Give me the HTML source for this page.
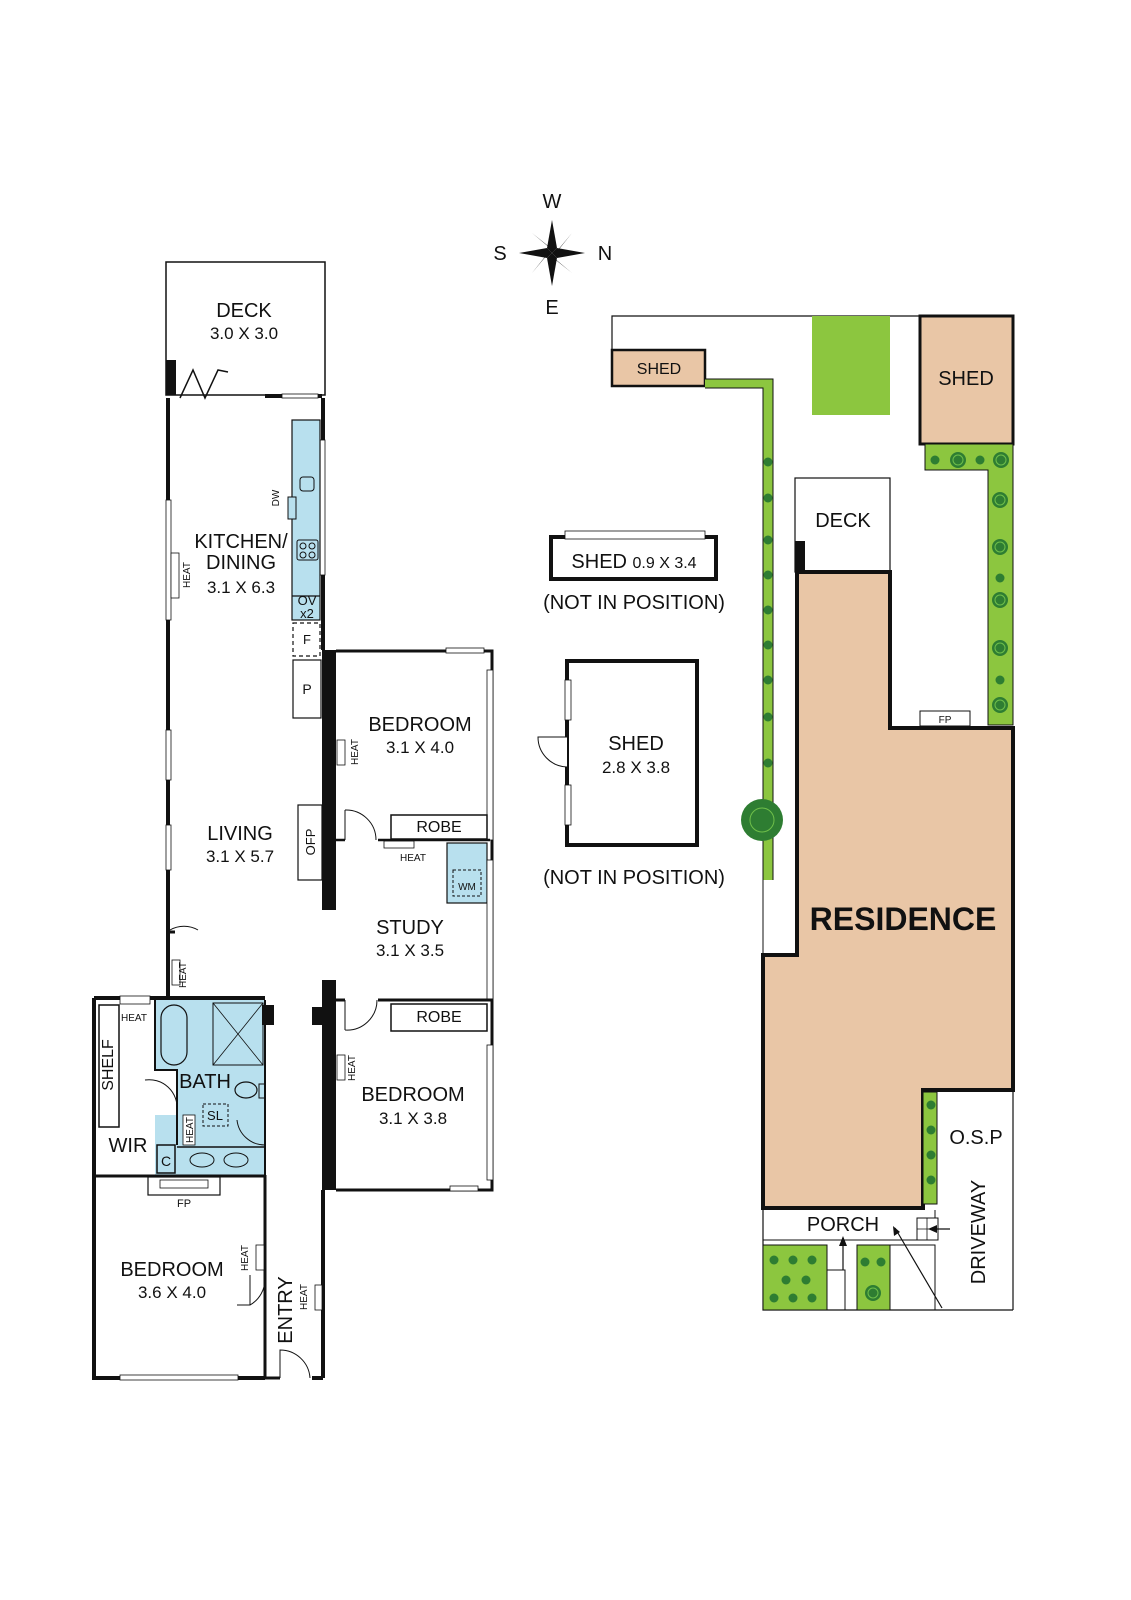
<!DOCTYPE html>
<html><head><style>
html,body{margin:0;padding:0;background:#fff;}
svg{display:block;}
text{font-family:"Liberation Sans",sans-serif;fill:#111;}
</style></head><body>
<svg width="1131" height="1600" viewBox="0 0 1131 1600" xmlns="http://www.w3.org/2000/svg">
<defs>
<g id="tr"><circle r="8" fill="#2e7d32"/><circle r="5" fill="none" stroke="#6fbf4a" stroke-width="1"/></g>
<g id="ts"><circle r="4.5" fill="#2e7d32"/></g>
</defs>
<!-- compass -->
<g transform="translate(552,253)">
<polygon points="0,-33 5,-5 0,0 -5,-5" fill="#111"/>
<polygon points="0,33 5,5 0,0 -5,5" fill="#111"/>
<polygon points="-33,0 -5,5 0,0 -5,-5" fill="#111"/>
<polygon points="33,0 5,5 0,0 5,-5" fill="#111"/>
<polygon points="-20,-20 0,-4 4,0" fill="#111"/><polygon points="20,-20 4,0 0,4" fill="#111"/>
<polygon points="20,20 0,4 -4,0" fill="#111"/><polygon points="-20,20 -4,0 0,-4" fill="#111"/>
</g>
<text x="552" y="208" font-size="20" text-anchor="middle">W</text>
<text x="552" y="314" font-size="20" text-anchor="middle">E</text>
<text x="500" y="260" font-size="20" text-anchor="middle">S</text>
<text x="605" y="260" font-size="20" text-anchor="middle">N</text>

<!-- LEFT PLAN -->
<g fill="none" stroke="#111">
<rect x="166" y="262" width="159" height="133" stroke-width="1.5"/>
<rect x="166" y="360" width="10" height="35" fill="#111" stroke="none"/>
<path d="M180 398 L193 370 L205 398 L218 370 L228 372" stroke-width="1.5"/>
<rect x="265" y="394" width="57" height="4" fill="#111" stroke="none"/>
<rect x="282" y="394" width="36" height="4" fill="#fff" stroke-width="0.8"/>
<path d="M168 398 V500 M168 620 V730 M168 780 V825 M168 870 V935" stroke-width="4"/>
<rect x="166" y="500" width="5" height="120" fill="#fff" stroke-width="0.8"/>
<rect x="166" y="730" width="5" height="50" fill="#fff" stroke-width="0.8"/>
<rect x="166" y="825" width="5" height="45" fill="#fff" stroke-width="0.8"/>
<rect x="171" y="553" width="8" height="45" fill="#fff" stroke-width="0.8"/>
<path d="M323 398 V650" stroke-width="4"/>
<rect x="320" y="440" width="5" height="135" fill="#fff" stroke-width="0.8"/>
<rect x="292" y="420" width="28" height="200" fill="#b8e0ee" stroke-width="1.2"/>
<line x1="292" y1="596" x2="320" y2="596" stroke-width="1.2"/>
<rect x="300" y="477" width="14" height="14" rx="3" stroke-width="1"/>
<rect x="288" y="497" width="8" height="22" fill="#b8e0ee" stroke-width="1"/>
<rect x="297" y="540" width="21" height="20" rx="2" stroke-width="1"/>
<circle cx="303" cy="546" r="3"/><circle cx="312" cy="546" r="3"/><circle cx="303" cy="555" r="3"/><circle cx="312" cy="555" r="3"/>
<rect x="293" y="623" width="27" height="33" stroke-dasharray="4,3" stroke-width="1.2"/>
<rect x="293" y="660" width="28" height="58" stroke-width="1.2"/>
<rect x="298" y="805" width="24" height="75" stroke-width="1.2"/>
<rect x="322" y="650" width="14" height="260" fill="#111" stroke="none"/>
<path d="M336 651 H492 V1000" stroke-width="3"/>
<rect x="446" y="648" width="38" height="5" fill="#fff" stroke-width="0.8"/>
<rect x="487" y="670" width="6" height="170" fill="#fff" stroke-width="0.8"/>
<rect x="337" y="740" width="8" height="25" fill="#fff" stroke-width="0.8"/>
<path d="M336 840 H345 M378 840 H490" stroke-width="2.5"/>
<path d="M345 810 V840 M345 810 A30 30 0 0 1 376 840" stroke-width="1"/>
<rect x="391" y="815" width="96" height="24" stroke-width="1.5"/>
<rect x="384" y="841" width="30" height="7" stroke-width="0.8"/>
<rect x="447" y="843" width="40" height="60" fill="#b8e0ee" stroke-width="1.2"/>
<rect x="453" y="870" width="28" height="26" stroke-dasharray="3,2" stroke-width="1"/>
<rect x="487" y="860" width="6" height="140" fill="#fff" stroke-width="0.8"/>
<path d="M168 935 V1000" stroke-width="4"/>
<path d="M170 930 A28 28 0 0 1 198 930" stroke-width="1"/>
<path d="M166 932 H175" stroke-width="3"/>
<rect x="172" y="960" width="8" height="25" fill="#fff" stroke-width="0.8"/>
<rect x="322" y="980" width="14" height="210" fill="#111" stroke="none"/>
<rect x="312" y="1007" width="12" height="18" fill="#111" stroke="none"/>
<path d="M336 1000 H345 M378 1000 H492 V1190 H336" stroke-width="3"/>
<path d="M345 1000 V1030 M345 1030 A30 30 0 0 0 377 1000" stroke-width="1"/>
<rect x="391" y="1004" width="96" height="27" stroke-width="1.5"/>
<rect x="487" y="1045" width="6" height="135" fill="#fff" stroke-width="0.8"/>
<rect x="450" y="1186" width="28" height="5" fill="#fff" stroke-width="0.8"/>
<rect x="337" y="1055" width="8" height="25" fill="#fff" stroke-width="0.8"/>
<path d="M323 1190 V1378 M323 1378 H312" stroke-width="4"/>
<rect x="315" y="1285" width="7" height="25" fill="#fff" stroke-width="0.8"/>
<path d="M265 1175 V1378 H280" stroke-width="3"/>
<path d="M280 1378 V1350 A30 30 0 0 1 310 1378" stroke-width="1"/>
<rect x="155" y="1000" width="110" height="175" fill="#b8e0ee" stroke="none"/>
<rect x="94" y="1000" width="61" height="175" fill="#fff" stroke="none"/>
<rect x="155" y="1070" width="22" height="45" fill="#fff" stroke="none"/>
<path d="M155 1000 V1070 H177 V1145 M265 1000 V1175" stroke-width="2"/>
<path d="M94 998 H265 M94 998 V1378 H265" stroke-width="4"/>
<rect x="262" y="1005" width="12" height="20" fill="#111" stroke="none"/>
<rect x="120" y="996" width="30" height="8" fill="#fff" stroke-width="0.8"/>
<rect x="161" y="1005" width="26" height="60" rx="13" stroke-width="1.2"/>
<rect x="213" y="1003" width="50" height="62" stroke-width="1"/>
<path d="M213 1003 L263 1065 M263 1003 L213 1065" stroke-width="0.8"/>
<ellipse cx="246" cy="1090" rx="11" ry="8" stroke-width="1.2"/>
<rect x="259" y="1084" width="6" height="14" stroke-width="1"/>
<rect x="203" y="1104" width="25" height="22" stroke-dasharray="3,2" stroke-width="1"/>
<path d="M237 1120 A28 28 0 0 0 265 1145" stroke-width="1"/>
<path d="M145 1080 A28 28 0 0 1 177 1110" stroke-width="1"/>
<rect x="183" y="1115" width="12" height="30" fill="#fff" stroke-width="0.8"/>
<rect x="99" y="1005" width="20" height="122" stroke-width="1.5"/>
<path d="M177 1147 H265" stroke-width="1.5"/>
<ellipse cx="202" cy="1160" rx="12" ry="7" stroke-width="1"/>
<ellipse cx="236" cy="1160" rx="12" ry="7" stroke-width="1"/>
<rect x="157" y="1145" width="18" height="28" stroke-width="1.5"/>
<path d="M94 1176 H265" stroke-width="3"/>
<rect x="148" y="1177" width="72" height="18" stroke-width="1.2"/>
<rect x="160" y="1180" width="48" height="8" stroke-width="0.8"/>
<rect x="256" y="1245" width="8" height="25" fill="#fff" stroke-width="0.8"/>
<path d="M237 1305 H250 V1275 M250 1305 A30 30 0 0 0 265 1278" stroke-width="1"/>
<rect x="120" y="1375" width="118" height="5" fill="#fff" stroke-width="0.8"/>
</g>
<g text-anchor="middle">
<text x="244" y="317" font-size="20">DECK</text>
<text x="244" y="339" font-size="17">3.0 X 3.0</text>
<text x="241" y="548" font-size="20">KITCHEN/</text>
<text x="241" y="569" font-size="20">DINING</text>
<text x="241" y="593" font-size="17">3.1 X 6.3</text>
<text x="240" y="840" font-size="20">LIVING</text>
<text x="240" y="862" font-size="17">3.1 X 5.7</text>
<text x="420" y="731" font-size="20">BEDROOM</text>
<text x="420" y="753" font-size="17">3.1 X 4.0</text>
<text x="439" y="832" font-size="16">ROBE</text>
<text x="439" y="1022" font-size="16">ROBE</text>
<text x="410" y="934" font-size="20">STUDY</text>
<text x="410" y="956" font-size="17">3.1 X 3.5</text>
<text x="413" y="1101" font-size="20">BEDROOM</text>
<text x="413" y="1124" font-size="17">3.1 X 3.8</text>
<text x="172" y="1276" font-size="20">BEDROOM</text>
<text x="172" y="1298" font-size="17">3.6 X 4.0</text>
<text x="205" y="1088" font-size="20">BATH</text>
<text x="128" y="1152" font-size="20">WIR</text>
<text x="215" y="1120" font-size="13">SL</text>
<text x="166" y="1166" font-size="14">C</text>
<text x="307" y="605" font-size="13">OV</text>
<text x="307" y="618" font-size="13">x2</text>
<text x="307" y="644" font-size="13">F</text>
<text x="307" y="694" font-size="14">P</text>
<text x="467" y="890" font-size="10">WM</text>
<text x="413" y="861" font-size="10">HEAT</text>
<text x="134" y="1021" font-size="10">HEAT</text>
<text x="184" y="1207" font-size="11">FP</text>
</g>
<g font-size="10" text-anchor="middle">
<text transform="translate(279,498) rotate(-90)">DW</text>
<text transform="translate(190,575) rotate(-90)">HEAT</text>
<text transform="translate(358,752) rotate(-90)">HEAT</text>
<text transform="translate(186,975) rotate(-90)">HEAT</text>
<text transform="translate(355,1068) rotate(-90)">HEAT</text>
<text transform="translate(193,1130) rotate(-90)">HEAT</text>
<text transform="translate(248,1258) rotate(-90)">HEAT</text>
<text transform="translate(307,1297) rotate(-90)">HEAT</text>
</g>
<text transform="translate(315,842) rotate(-90)" font-size="13" text-anchor="middle">OFP</text>
<text transform="translate(113,1065) rotate(-90)" font-size="16" text-anchor="middle">SHELF</text>
<text transform="translate(292,1310) rotate(-90)" font-size="20" text-anchor="middle">ENTRY</text>

<!-- MIDDLE SHEDS -->
<g fill="none" stroke="#111">
<rect x="551" y="537" width="165" height="42" stroke-width="4"/>
<rect x="565" y="531" width="140" height="8" fill="#fff" stroke-width="0.8"/>
<rect x="567" y="661" width="130" height="184" stroke-width="4"/>
<rect x="565" y="680" width="6" height="40" fill="#fff" stroke-width="0.8"/>
<rect x="565" y="785" width="6" height="40" fill="#fff" stroke-width="0.8"/>
<path d="M567 737 H538 A30 30 0 0 0 567 767" stroke-width="1" fill="#fff"/>
</g>
<g text-anchor="middle">
<text x="634" y="568" font-size="20">SHED <tspan font-size="16">0.9 X 3.4</tspan></text>
<text x="634" y="609" font-size="20">(NOT IN POSITION)</text>
<text x="636" y="750" font-size="20">SHED</text>
<text x="636" y="773" font-size="17">2.8 X 3.8</text>
<text x="634" y="884" font-size="20">(NOT IN POSITION)</text>
</g>

<!-- RIGHT SITE -->
<g stroke="#111" fill="none">
<path d="M612 350 V316 H920" stroke-width="1.2"/>
<rect x="612" y="350" width="93" height="36" fill="#e9c6a6" stroke-width="2.5"/>
<rect x="812" y="316" width="78" height="99" fill="#8cc63f" stroke="none"/>
<rect x="920" y="316" width="93" height="128" fill="#e9c6a6" stroke-width="3"/>
<path d="M705 383.5 H768 V880" stroke="#8cc63f" stroke-width="10"/>
<path d="M705 379 H773 V880 M705 388 H763 V955" stroke-width="1"/>
<rect x="795" y="478" width="95" height="94" stroke-width="1.2"/>
<rect x="795" y="541" width="10" height="31" fill="#111" stroke="none"/>
<path d="M925 444 V470 H988 V725 H1013 V444 Z" fill="#8cc63f" stroke-width="1"/>
<path d="M890 572 V728" stroke-width="1.2"/>
<path d="M797 572 H890 V728 H1013 V1090 H923 V1208 H763 V955 H797 Z" fill="#e9c6a6" stroke-width="4"/>
<rect x="920" y="711" width="50" height="15" fill="#fff" stroke-width="1"/>
<rect x="923" y="1092" width="14" height="112" fill="#8cc63f" stroke-width="1"/>
<path d="M1013 1090 V1310" stroke-width="1.2"/>
<path d="M763 1208 V1310 H1013" stroke-width="1.2"/>
<path d="M763 1240 H935 V1210" stroke-width="1"/>
<rect x="763" y="1245" width="64" height="65" fill="#8cc63f" stroke-width="1"/>
<rect x="857" y="1245" width="33" height="65" fill="#8cc63f" stroke-width="1"/>
<path d="M827 1270 H845 V1310 M890 1245 H935 V1310" stroke-width="1"/>
<rect x="917" y="1218" width="21" height="22" fill="#fff" stroke-width="1"/>
<path d="M927 1218 V1240 M917 1229 H938" stroke-width="0.8"/>
<path d="M843 1270 V1240 M895 1228 L942 1308 M932 1229 H950" stroke-width="1.2"/>
</g>
<polygon points="843,1236 839,1246 847,1246" fill="#111"/>
<polygon points="893,1226 894,1236 900,1232" fill="#111"/>
<polygon points="928,1229 937,1225 937,1233" fill="#111"/>
<g>
<use href="#ts" x="768" y="462"/><use href="#ts" x="768" y="498"/><use href="#ts" x="768" y="540"/>
<use href="#ts" x="768" y="575"/><use href="#ts" x="768" y="610"/><use href="#ts" x="768" y="645"/>
<use href="#ts" x="768" y="680"/><use href="#ts" x="768" y="717"/><use href="#ts" x="768" y="763"/>
<circle cx="762" cy="820" r="21" fill="#2e7d32"/><circle cx="762" cy="820" r="12" fill="none" stroke="#6fbf4a"/>
<use href="#ts" x="935" y="460"/><use href="#tr" x="958" y="460"/><use href="#tr" x="1001" y="460"/><use href="#ts" x="980" y="460"/>
<use href="#tr" x="1000" y="500"/><use href="#tr" x="1000" y="547"/><use href="#ts" x="1000" y="578"/>
<use href="#tr" x="1000" y="600"/><use href="#tr" x="1000" y="648"/><use href="#ts" x="1000" y="680"/><use href="#tr" x="1000" y="705"/>
<use href="#ts" x="931" y="1105"/><use href="#ts" x="931" y="1130"/><use href="#ts" x="931" y="1155"/><use href="#ts" x="931" y="1180"/>
<use href="#ts" x="774" y="1260"/><use href="#ts" x="793" y="1260"/><use href="#ts" x="812" y="1260"/>
<use href="#ts" x="786" y="1280"/><use href="#ts" x="806" y="1280"/><use href="#ts" x="774" y="1298"/><use href="#ts" x="793" y="1298"/><use href="#ts" x="812" y="1298"/>
<use href="#ts" x="865" y="1262"/><use href="#ts" x="881" y="1262"/><use href="#tr" x="873" y="1293"/>
</g>
<g text-anchor="middle">
<text x="659" y="374" font-size="16">SHED</text>
<text x="966" y="385" font-size="20">SHED</text>
<text x="843" y="527" font-size="20">DECK</text>
<text x="945" y="723" font-size="10">FP</text>
<text x="903" y="930" font-size="32" font-weight="bold">RESIDENCE</text>
<text x="976" y="1144" font-size="20">O.S.P</text>
<text x="843" y="1231" font-size="20">PORCH</text>
</g>
<text transform="translate(985,1232) rotate(-90)" font-size="20" text-anchor="middle">DRIVEWAY</text>
</svg>
</body></html>
